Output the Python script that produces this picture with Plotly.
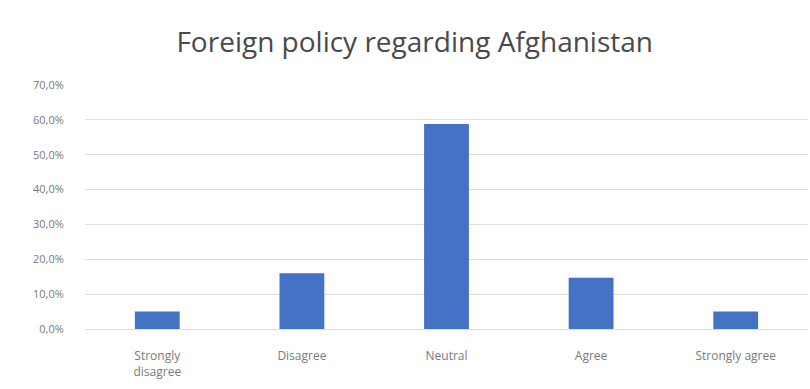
import plotly.graph_objects as go

categories = ["Strongly<br>disagree", "Disagree", "Neutral", "Agree", "Strongly agree"]
values = [5.0, 16.0, 58.8, 14.7, 5.0]
y_ticks = [0, 10, 20, 30, 40, 50, 60, 70]
y_tick_labels = ["0,0%", "10,0%", "20,0%", "30,0%", "40,0%", "50,0%", "60,0%", "70,0%"]

fig = go.Figure(go.Bar(x=categories, y=values, marker=dict(color="#4472c4", line=dict(width=0)), width=0.31))

fig.update_layout(
    width=810, height=389,
    margin=dict(l=85, r=2, t=85, b=60),
    paper_bgcolor="white", plot_bgcolor="white",
    font=dict(family="Open Sans", color="#767171"),
    title=dict(text="Foreign policy regarding Afghanistan", x=0.512, xanchor="center", y=0.892, yanchor="middle",
               font=dict(size=28, color="#4a4a4a", family="Open Sans")),
    showlegend=False,
)
fig.update_yaxes(range=[0, 70], tickvals=y_ticks, ticktext=y_tick_labels,
                 showgrid=True, gridcolor="#dedede", gridwidth=1, zeroline=False,
                 ticks="outside", ticklen=18, tickcolor="rgba(0,0,0,0)",
                 tickfont=dict(size=11, color="#7a7a7a"), showline=False)
fig.update_xaxes(showline=True, linecolor="#dedede", ticks="outside", ticklen=16, tickcolor="rgba(0,0,0,0)",
                 tickfont=dict(size=12, color="#7a7a7a"))

fig.write_html("out.html")
